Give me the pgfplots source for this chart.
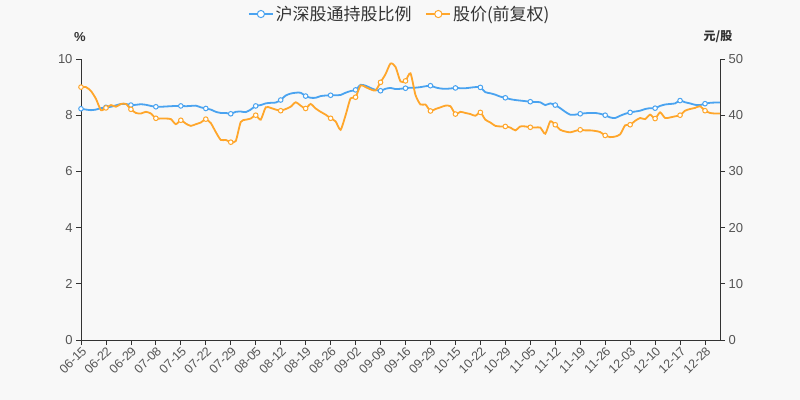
\documentclass[border=0pt]{standalone}
\usepackage{pgfplots}
\pgfplotsset{compat=1.18}
\usepackage{pgfplotstable}
\usepackage{fontspec}
\setmainfont{Liberation Sans}
\newfontfamily\cjk{Noto Sans CJK SC}
\definecolor{cblue}{HTML}{4AA3F0}
\definecolor{corange}{HTML}{FFA62B}
\definecolor{axgray}{HTML}{333333}
\definecolor{txtgray}{HTML}{555555}
\definecolor{bg}{HTML}{F8F8F8}

\pgfplotstableread{
i b o
0 8.23 45.0
1 8.20 45.0
2 8.18 44.3
3 8.20 42.9
4 8.25 40.9
5 8.28 41.3
6 8.30 41.8
7 8.35 41.5
8 8.40 42.0
9 8.40 42.0
10 8.36 41.05
11 8.37 40.4
12 8.39 40.3
13 8.37 40.6
14 8.33 40.3
15 8.30 39.45
16 8.30 39.4
17 8.31 39.4
18 8.32 39.3
19 8.33 38.4
20 8.33 39.1
21 8.32 38.5
22 8.33 38.1
23 8.34 38.4
24 8.28 38.7
25 8.24 39.3
26 8.20 38.6
27 8.12 37.0
28 8.08 35.6
29 8.08 35.6
30 8.05 35.2
31 8.12 35.4
32 8.13 38.8
33 8.11 39.2
34 8.20 39.4
35 8.33 40.0
36 8.36 39.2
37 8.42 41.4
38 8.44 41.3
39 8.45 41.0
40 8.54 40.8
41 8.70 41.1
42 8.77 41.5
43 8.80 42.3
44 8.80 41.7
45 8.68 41.2
46 8.62 42.0
47 8.62 41.2
48 8.68 40.6
49 8.70 40.1
50 8.71 39.45
51 8.71 38.9
52 8.72 37.4
53 8.80 40.0
54 8.86 43.0
55 8.90 43.2
56 9.08 45.3
57 9.05 45.0
58 8.97 44.6
59 8.90 44.4
60 8.87 45.85
61 8.94 47.3
62 8.97 49.2
63 8.93 48.6
64 8.94 46.0
65 8.96 46.1
66 8.98 47.45
67 8.98 43.6
68 9.00 41.9
69 9.03 41.9
70 9.05 40.75
71 8.99 41.1
72 8.95 41.4
73 8.94 41.7
74 8.95 41.6
75 8.97 40.2
76 8.96 40.6
77 8.96 40.4
78 8.98 40.2
79 9.00 39.9
80 8.99 40.5
81 8.82 39.2
82 8.78 38.7
83 8.73 38.1
84 8.66 38.0
85 8.62 38.0
86 8.57 37.8
87 8.54 37.3
88 8.52 38.0
89 8.50 38.0
90 8.48 37.85
91 8.47 37.8
92 8.46 37.8
93 8.36 36.7
94 8.42 38.9
95 8.36 38.3
96 8.25 37.4
97 8.12 37.1
98 8.02 36.95
99 8.02 37.2
100 8.05 37.4
101 8.07 37.3
102 8.08 37.3
103 8.08 37.2
104 8.05 37.0
105 8.00 36.4
106 7.92 36.1
107 7.90 36.2
108 7.98 36.6
109 8.05 38.2
110 8.10 38.3
111 8.13 39.0
112 8.16 39.5
113 8.22 39.3
114 8.25 40.1
115 8.25 39.4
116 8.33 40.5
117 8.38 39.5
118 8.40 39.6
119 8.42 39.8
120 8.52 40.0
121 8.46 40.8
122 8.42 41.1
123 8.37 41.3
124 8.36 41.6
125 8.41 40.8
126 8.44 40.4
127 8.45 40.3
128 8.45 40.3
}\data

\pgfplotsset{
  common/.style={
    scale only axis, width=639bp, height=281bp,
    xmin=0, xmax=128,
    axis line style={axgray, line width=0.8bp},
    tick style={axgray, line width=0.8bp},
    major tick length=5bp,
    tick align=outside,
    /pgf/number format/assume math mode=true,
    ticklabel style={text=txtgray, font=\fontsize{13bp}{15bp}\selectfont},
  },
  bstyle/.style={cblue, line width=1.8bp, smooth, tension=0.4,
    mark=*, mark repeat=5, mark phase=1, mark size=2.3bp,
    mark options={fill=white, draw=cblue, line width=1bp}},
  ostyle/.style={corange, line width=1.8bp, smooth, tension=0.4,
    mark=*, mark repeat=5, mark phase=1, mark size=2.3bp,
    mark options={fill=white, draw=corange, line width=1bp}},
}

\begin{document}
\begin{tikzpicture}
\fill[bg] (-81bp,-60bp) rectangle (719bp,340bp);
\begin{axis}[
  common,
  ymin=0, ymax=10,
  axis x line*=bottom, axis y line*=left,
  ytick={0,2,4,6,8,10},
  xtick={0,5,...,125},
  xticklabels={06-15,06-22,06-29,07-08,07-15,07-22,07-29,08-05,08-12,08-19,08-26,09-02,09-09,09-16,09-29,10-15,10-22,10-29,11-05,11-12,11-19,11-26,12-03,12-10,12-17,12-28},
  xticklabel style={rotate=45, anchor=north east, inner sep=0.5bp, font=\fontsize{12.5bp}{14bp}\selectfont},
]
\addplot[bstyle] table[x=i, y=b] {\data};
\end{axis}
\begin{axis}[
  common,
  ymin=0, ymax=50,
  axis x line=none, axis y line*=right,
  ytick={0,10,20,30,40,50},
  legend image code/.code={
    \draw[mark repeat=2, mark phase=2, line width=1.4bp, mark size=3.6bp, #1]
      plot coordinates {(0bp,0bp) (12bp,0bp) (24bp,0bp)};},
  legend style={at={(0.499,1.160)}, anchor=center, draw=none, fill=none,
    legend columns=2, text=axgray,
    font=\cjk\fontsize{17bp}{20bp}\selectfont,
    /tikz/every even column/.append style={column sep=12bp}},
]
\addlegendimage{bstyle}
\addlegendentry{沪深股通持股比例}
\addplot[ostyle] table[x=i, y=o] {\data};
\addlegendentry{股价(前复权)}
\end{axis}
\node[text=axgray, font=\fontsize{13bp}{15bp}\selectfont\bfseries] at (-1bp,303bp) {\%};
\node[text=axgray, font=\cjk\fontsize{12bp}{14bp}\selectfont\bfseries] at (637bp,303bp) {元/股};
\end{tikzpicture}
\end{document}
